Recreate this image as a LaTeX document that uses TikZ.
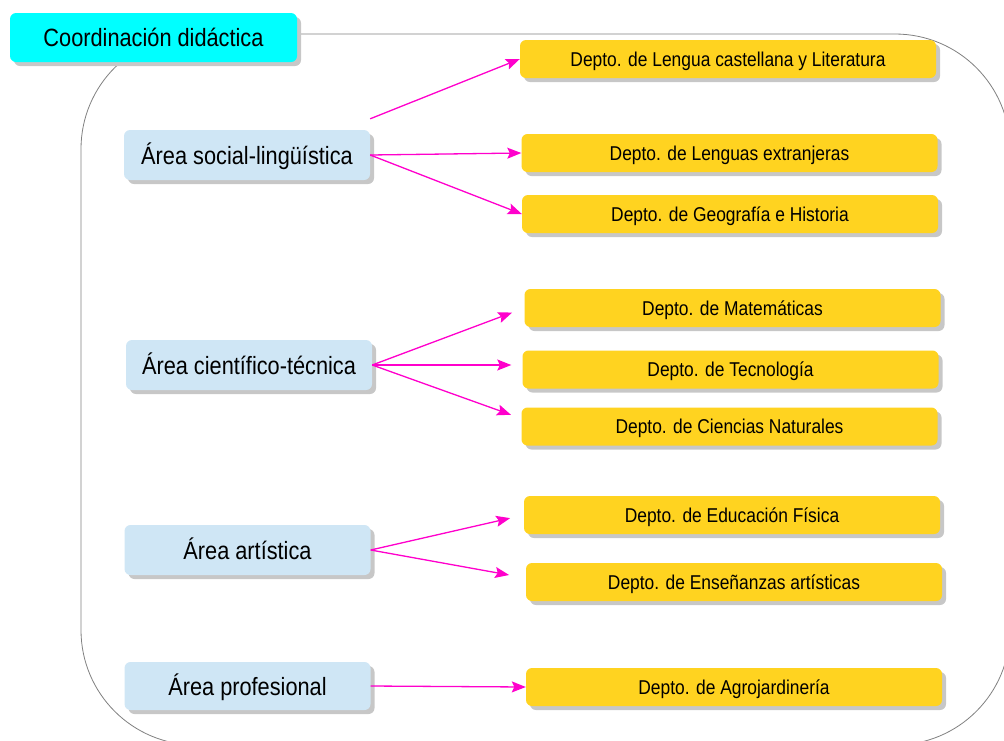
\documentclass[tikz,border=0pt]{standalone}
\usepackage{fontspec}
\setmainfont{Liberation Sans}[FakeStretch=0.87]
\usetikzlibrary{positioning,arrows.meta,shadows,calc}
\definecolor{coordcyan}{RGB}{0,255,255}
\definecolor{areablue}{RGB}{207,230,245}
\definecolor{deptoyellow}{RGB}{255,211,32}
\definecolor{arrowpink}{RGB}{255,0,204}
\tikzset{
plan/.style={
    x=1pt,
    y=-1pt
},
box/.style={
    rectangle,
    rounded corners=6pt,
    inner sep=0pt,
    text depth=0pt,
    drop shadow={shadow xshift=4pt, shadow yshift=-4pt, fill=black!22, opacity=1}
},
coord/.style={
    box,
    fill=coordcyan,
    minimum width=287pt,
    minimum height=49pt,
    text height=18pt,
    font=\fontsize{25}{30}\selectfont
},
area/.style={
    box,
    fill=areablue,
    minimum width=246pt,
    minimum height=50pt,
    text height=18pt,
    font=\fontsize{25}{30}\selectfont
},
depto/.style={
    box,
    fill=deptoyellow,
    minimum width=416pt,
    minimum height=38pt,
    text height=14.4pt,
    font=\fontsize{20}{24}\selectfont
},
frame/.style={
    draw=black!50,
    line width=0.8pt,
    rounded corners=115pt
},
sees/.style={
    -{Stealth[length=14pt, width=11pt, inset=2.5pt]},
    draw=arrowpink,
    fill=arrowpink,
    line width=1.3pt
}}

\begin{document}
\begin{tikzpicture}[plan]
\useasboundingbox (0,0) rectangle (1004,740);
\begin{scope}
\clip (0,0) rectangle (1004,740);
\draw[frame] (81,34) rectangle (1010,745);
\end{scope}

\node[coord]    (cd)    at (153.5,37.5)    {Coordinación didáctica};

\node[area]    (a1)    at (247,155)    {Área social-lingüística};
\node[area]    (a2)    at (249,365)    {Área científico-técnica};
\node[area]    (a3)    at (247.5,550)    {Área artística};
\node[area, minimum height=48pt]    (a4)    at (247.5,686)    {Área profesional};

\node[depto]    (d1)    at (728,59)    {Depto. de Lengua castellana y Literatura};
\node[depto]    (d2)    at (729.5,153)    {Depto. de Lenguas extranjeras};
\node[depto]    (d3)    at (730,214)    {Depto. de Geografía e Historia};
\node[depto]    (d4)    at (732.5,308)    {Depto. de Matemáticas};
\node[depto]    (d5)    at (730.5,369.5)    {Depto. de Tecnología};
\node[depto]    (d6)    at (729.5,426.5)    {Depto. de Ciencias Naturales};
\node[depto]    (d7)    at (732,515)    {Depto. de Educación Física};
\node[depto]    (d8)    at (734,582)    {Depto. de Enseñanzas artísticas};
\node[depto]    (d9)    at (734,687)    {Depto. de Agrojardinería};

\coordinate    (s1)    at ($(a1.north east)+(0,-11)$);

\path    (s1)    edge[sees]    (d1.west);
\path    (a1.east)    edge[sees]    (d2.west);
\path    (a1.east)    edge[sees]    (d3.west);
\path    (a2.east)    edge[sees, shorten >=13pt]    (d4.west);
\path    (a2.east)    edge[sees, shorten >=11pt]    (a2.east -| d5.west);
\path    (a2.east)    edge[sees, shorten >=11pt]    ($(d6.west)+(0,-8)$);
\path    (a3.east)    edge[sees, shorten >=14pt]    (d7.west);
\path    (a3.east)    edge[sees, shorten >=17pt]    ($(d8.west)+(0,-4)$);
\path    (a4.east)    edge[sees]    (d9.west);
\end{tikzpicture}
\end{document}
